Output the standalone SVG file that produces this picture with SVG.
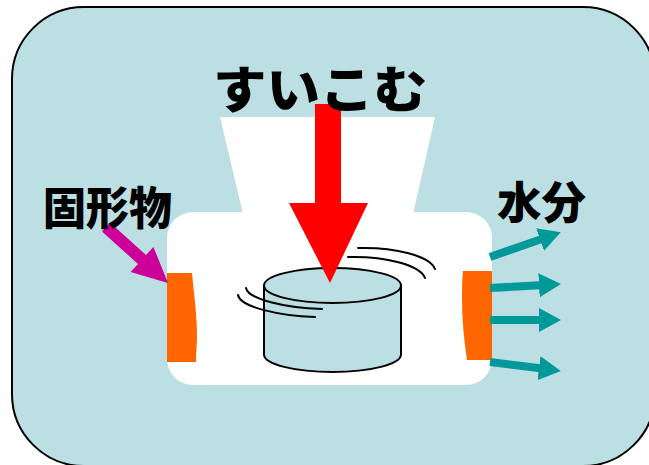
<svg xmlns="http://www.w3.org/2000/svg" width="649" height="465" viewBox="0 0 649 465">
  <style>
    .label { font-family: "Noto Sans CJK JP", "Noto Sans", sans-serif; font-weight: 900; fill: #000; }
    .outline { stroke: #000; stroke-width: 2; }
    .swirl { fill: none; stroke: #000; stroke-width: 2; stroke-linecap: round; }
    .flow { stroke: #009999; stroke-width: 8; fill: none; }
  </style>
  <defs>
    <marker id="tealHead" markerUnits="strokeWidth" viewBox="0 0 22 24" markerWidth="2.75" markerHeight="3" refX="1" refY="12" orient="auto">
      <path d="M0,0 L22,12 L0,24 Z" fill="#009999"/>
    </marker>
  </defs>

  <!-- panel -->
  <rect x="12" y="7" width="643" height="459" rx="72" ry="72" fill="#BBDFE2" class="outline"/>

  <!-- press body: funnel and chamber -->
  <g id="press">
    <polygon points="220,117 435,117 413,214 243,214" fill="#fff"/>
    <rect x="167" y="212" width="325" height="173" rx="26" ry="26" fill="#fff"/>
  </g>

  <!-- screens on both sides -->
  <g id="screen-left">
    <path d="M167,273 L192,273 C194,295 197,315 197,335 C197,345 196,355 196,362 L167,362 Z" fill="#FF6600"/>
  </g>
  <g id="screen-right">
    <path d="M463,271 L492,271 L492,360 L467,360 C464,340 462,320 462,300 C462,290 462,280 463,271 Z" fill="#FF6600"/>
  </g>

  <!-- spinning drum -->
  <g id="drum">
    <path d="M264,285.5 L264,354.5 A68.5,17.5 0 0 0 401,354.5 L401,285.5 Z" fill="#BBDFE2" class="outline"/>
    <ellipse cx="332.5" cy="285.5" rx="68.5" ry="17.5" fill="#BBDFE2" class="outline"/>
    <path class="swirl" d="M358,248 C395,247 430,256 435,269"/>
    <path class="swirl" d="M348,257 C385,256 420,265 425,278"/>
    <path class="swirl" d="M246,288 C248,299 285,308 322,309"/>
    <path class="swirl" d="M238,295 C240,307 280,316 315,317"/>
  </g>

  <!-- connectors -->
  <g id="connectors">
    <polygon points="315,104 341,104 341,203 368,203 330,283 289,203 315,203" fill="#FF0000"/>
    <polygon points="110,222.5 146,255 153.4,246.9 168,283 130.6,272.1 138,264 102,231.5" fill="#CC0099"/>
    <line class="flow" x1="490" y1="257" x2="541" y2="239.2" marker-end="url(#tealHead)"/>
    <line class="flow" x1="490" y1="288" x2="540" y2="285.2" marker-end="url(#tealHead)"/>
    <line class="flow" x1="490" y1="320" x2="540" y2="320" marker-end="url(#tealHead)"/>
    <line class="flow" x1="490" y1="362" x2="540" y2="368.3" marker-end="url(#tealHead)"/>
  </g>

  <!-- labels -->
  <g id="label-suikomu">
    <text class="label" x="213" y="108" font-size="50" textLength="214" lengthAdjust="spacingAndGlyphs">すいこむ</text>
  </g>
  <g id="label-kokeibutsu">
    <text class="label" x="43" y="225" font-size="45" textLength="129" lengthAdjust="spacingAndGlyphs">固形物</text>
  </g>
  <g id="label-suibun">
    <text class="label" x="497" y="219" font-size="44" textLength="89" lengthAdjust="spacingAndGlyphs">水分</text>
  </g>
</svg>
